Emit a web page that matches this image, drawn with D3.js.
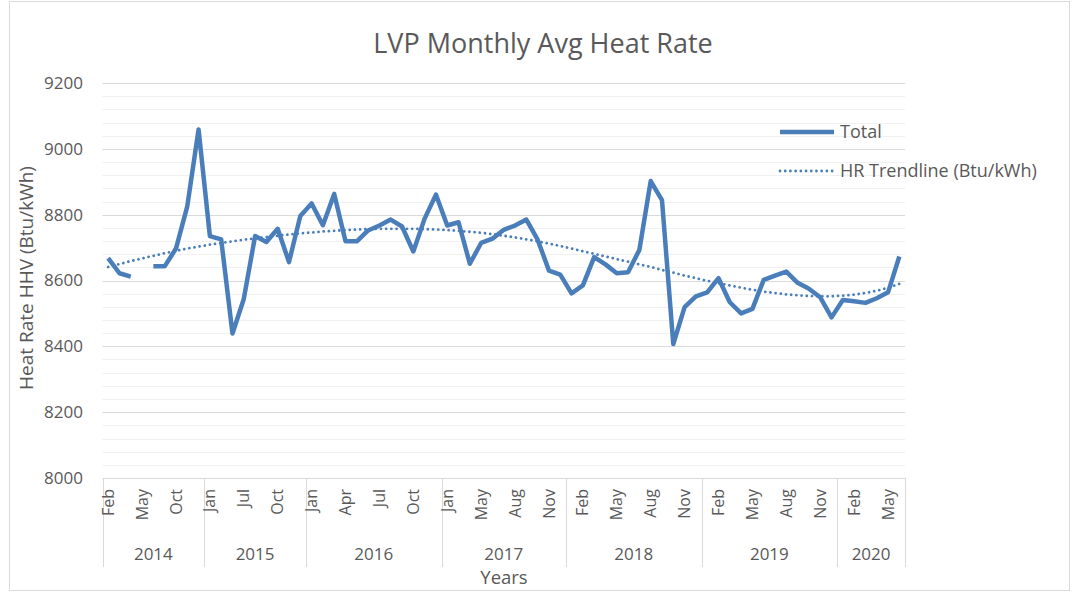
<!DOCTYPE html>
<html><head><meta charset="utf-8">
<script src="https://cdn.jsdelivr.net/npm/d3@7"></script>
<style>
html,body{margin:0;padding:0;background:#fff;}
svg{display:block;font-family:'Open Sans',sans-serif;}
</style></head><body>
<svg id="chart" width="1074" height="593"></svg>
<script>
const months = [
  "Feb","Mar","Apr","May","Aug","Sep","Oct","Nov","Dec",
  "Jan","Feb","Mar","Jul","Aug","Sep","Oct","Nov","Dec",
  "Jan","Feb","Mar","Apr","May","Jun","Jul","Aug","Sep","Oct","Nov","Dec",
  "Jan","Feb","Apr","May","Jun","Jul","Aug","Sep","Oct","Nov","Dec",
  "Jan","Feb","Mar","Apr","May","Jun","Jul","Aug","Sep","Oct","Nov","Dec",
  "Jan","Feb","Mar","Apr","May","Jun","Jul","Aug","Sep","Oct","Nov","Dec",
  "Jan","Feb","Mar","Apr","May","Jun"
];
const years = [
  2014,2014,2014,2014,2014,2014,2014,2014,2014,
  2015,2015,2015,2015,2015,2015,2015,2015,2015,
  2016,2016,2016,2016,2016,2016,2016,2016,2016,2016,2016,2016,
  2017,2017,2017,2017,2017,2017,2017,2017,2017,2017,2017,
  2018,2018,2018,2018,2018,2018,2018,2018,2018,2018,2018,2018,
  2019,2019,2019,2019,2019,2019,2019,2019,2019,2019,2019,2019,
  2020,2020,2020,2020,2020,2020
];
const total = [
  8668,8622,8612,null,8643,8643,8697,8825,9059,
  8735,8725,8439,8544,8735,8717,8757,8656,8796,
  8834,8768,8863,8719,8719,8752,8767,8785,8764,8688,8788,8861,
  8767,8777,8651,8714,8727,8754,8767,8785,8724,8630,8618,
  8561,8585,8671,8649,8622,8625,8693,8902,8844,8407,8519,8552,
  8564,8607,8534,8500,8514,8602,8615,8627,8593,8575,8549,8488,
  8541,8537,8532,8546,8564,8673
];
const trend = [
  8641,8650,8659,8667,8675,8683,8690,8697,8703,
  8709,8714,8719,8724,8728,8732,8736,8740,8743,
  8746,8749,8751,8753,8755,8756,8757,8757,8757,8757,8756,8755,
  8753,8751,8748,8745,8741,8736,8731,8725,8719,8712,8705,
  8697,8689,8681,8673,8665,8657,8649,8641,8632,8624,8615,8607,
  8599,8592,8585,8578,8572,8566,8562,8558,8555,8553,8552,8552,
  8554,8557,8562,8569,8578,8590
];
const yTicks = [8000,8200,8400,8600,8800,9000,9200];
const seriesNames = ["Total","HR Trendline (Btu/kWh)"];
const chartTitle = "LVP Monthly Avg Heat Rate";
const yTitle = "Heat Rate HHV (Btu/kWh)";
const xTitle = "Years";

const svg = d3.select("#chart");
const textCol = "#595959", gridCol = "#d9d9d9", minorCol = "#f0f0f0", lineCol = "#4a7ebb";
const pLeft = 102.5, pRight = 905, pTop = 83, pBottom = 478;

svg.append("rect").attr("x",9.5).attr("y",1.5).attr("width",1060).attr("height",589)
  .attr("fill","#fff").attr("stroke","#d9d9d9");

const x = d3.scaleBand().domain(d3.range(total.length)).range([pLeft,pRight]).padding(0);
const bw = x.bandwidth();
const cx = i => x(i) + bw/2;
const y = d3.scaleLinear().domain([8000,9200]).range([pBottom,pTop]);

// minor gridlines
svg.append("g").selectAll("line").data(d3.range(8040,9200,40).filter(v=>v%200!==0)).join("line")
  .attr("x1",pLeft).attr("x2",pRight).attr("y1",d=>Math.round(y(d))+0.5).attr("y2",d=>Math.round(y(d))+0.5)
  .attr("stroke",minorCol).attr("stroke-width",1);
// major gridlines
svg.append("g").selectAll("line").data(yTicks.slice(1)).join("line")
  .attr("x1",pLeft).attr("x2",pRight).attr("y1",d=>Math.round(y(d))+0.5).attr("y2",d=>Math.round(y(d))+0.5)
  .attr("stroke",gridCol).attr("stroke-width",1);

// y tick labels
svg.append("g").selectAll("text").data(yTicks).join("text")
  .attr("x",83).attr("y",d=>y(d)).attr("dy","0.35em").attr("text-anchor","end")
  .attr("fill",textCol).attr("font-size",17).text(d=>d);

// x axis baseline
svg.append("line").attr("x1",pLeft).attr("x2",pRight).attr("y1",pBottom+0.5).attr("y2",pBottom+0.5)
  .attr("stroke",gridCol);

// year groups
const groups = [];
years.forEach((yr,i)=>{
  if(!groups.length || groups[groups.length-1].year!==yr) groups.push({year:yr,start:i,end:i});
  else groups[groups.length-1].end = i;
});
const sepX = [pLeft, ...groups.map(g=>x(g.end)+bw)];
svg.append("g").selectAll("line").data(sepX).join("line")
  .attr("x1",d=>Math.round(d)+0.5).attr("x2",d=>Math.round(d)+0.5)
  .attr("y1",pBottom).attr("y2",567).attr("stroke",gridCol);
svg.append("g").selectAll("text").data(groups).join("text")
  .attr("x",g=>(x(g.start)+x(g.end)+bw)/2).attr("y",560).attr("text-anchor","middle")
  .attr("fill",textCol).attr("font-size",17).text(g=>g.year);

// month labels every 3rd category
svg.append("g").selectAll("text").data(d3.range(0,months.length,3)).join("text")
  .attr("transform",i=>`translate(${cx(i)},489) rotate(-90)`)
  .attr("dy","0.35em").attr("text-anchor","end")
  .attr("fill",textCol).attr("font-size",16).text(i=>months[i]);

// trendline
const line = d3.line().defined(d=>d!=null).x((d,i)=>cx(i)).y(d=>y(d));
svg.append("path").attr("d",line(trend)).attr("fill","none").attr("stroke",lineCol)
  .attr("stroke-width",2.8).attr("stroke-linecap","round").attr("stroke-dasharray","0.01,5.2");
// total line
svg.append("path").attr("d",line(total)).attr("fill","none").attr("stroke",lineCol)
  .attr("stroke-width",4.5).attr("stroke-linejoin","round").attr("stroke-linecap","butt");

// title
svg.append("text").attr("x",543).attr("y",53).attr("text-anchor","middle")
  .attr("fill",textCol).attr("font-size",27).text(chartTitle);
// y title
svg.append("text").attr("transform","translate(33,278) rotate(-90)").attr("text-anchor","middle")
  .attr("fill",textCol).attr("font-size",19).text(yTitle);
// x title
svg.append("text").attr("x",504).attr("y",584).attr("text-anchor","middle")
  .attr("fill",textCol).attr("font-size",18.5).text(xTitle);

// legend
const lg = svg.append("g");
lg.append("line").attr("x1",780).attr("x2",834).attr("y1",132).attr("y2",132)
  .attr("stroke",lineCol).attr("stroke-width",4.5);
lg.append("text").attr("x",840).attr("y",132).attr("dy","0.35em").attr("fill",textCol)
  .attr("font-size",18).text(seriesNames[0]);
lg.append("line").attr("x1",780).attr("x2",834).attr("y1",171).attr("y2",171)
  .attr("stroke",lineCol).attr("stroke-width",2.8).attr("stroke-linecap","round").attr("stroke-dasharray","0.01,5.2");
lg.append("text").attr("x",840).attr("y",171).attr("dy","0.35em").attr("fill",textCol)
  .attr("font-size",18).text(seriesNames[1]);
</script>
</body></html>
